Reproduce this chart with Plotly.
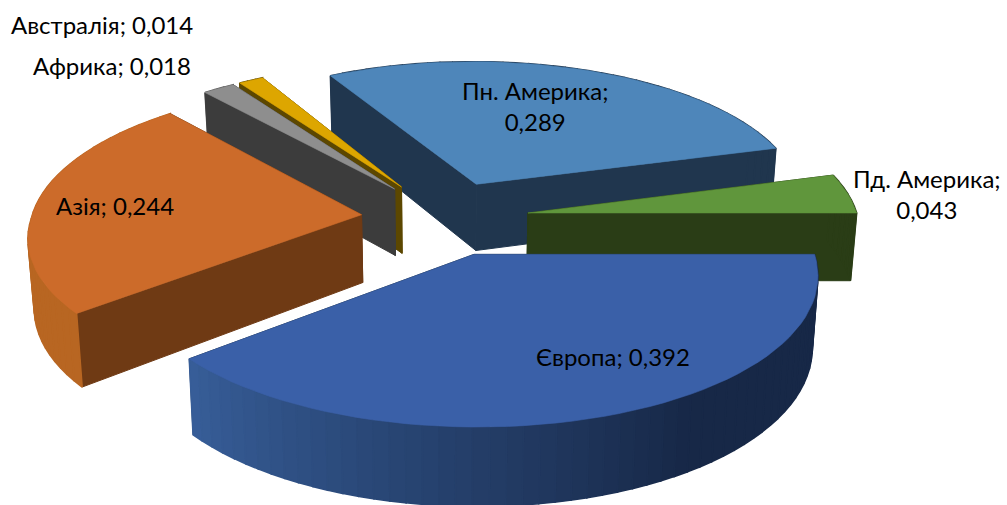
import numpy as np
import plotly.graph_objects as go

categories = ["Пн. Америка", "Пд. Америка", "Європа", "Азія", "Африка", "Австралія"]
values = [0.289, 0.043, 0.392, 0.244, 0.018, 0.014]
top_colors = ["#4E86BA", "#60963C", "#3A60A8", "#CC6B2A", "#8E8E8E", "#DDA600"]
cut_colors = ["#20364E", "#2A3D16", "#20364E", "#6F3A14", "#3C3C3C", "#5C4700"]
rim_light = ["#20364E", "#2A3D16", "#375E99", "#B86622", "#555555", "#5C4700"]
rim_dark = ["#20364E", "#2A3D16", "#172847", "#6F3A14", "#3C3C3C", "#5C4700"]
label_xy = [(535, 106), (927, 194), (613, 356), (115, 205), (112, 65), (102, 24)]
two_line = [True, True, False, False, False, False]
draw_order = [0, 5, 4, 1, 3, 2]

CX, CY, R, EXPLODE, K, Q, P, P_BACK, H, TAPER = 445, 218, 330, 84, 0.447, 0.115, 0.135, 0.11, 68, 0.985
START = 90 - (values[0] + values[1]) * 360  # Європа starts due east


def project(X, F, Z=0.0):
    s = 1 + (P if F > 0 else P_BACK) * F / R
    x = CX + X * s
    y = CY + F * K * (1 + Q * F / R)
    if Z:
        x = CX + (x - CX) * TAPER
        y = y + Z * s
    return x, y


def mix(a, b, t):
    ca = [int(a[i:i + 2], 16) for i in (1, 3, 5)]
    cb = [int(b[i:i + 2], 16) for i in (1, 3, 5)]
    return "rgb(%d,%d,%d)" % tuple(round(u + (v - u) * t) for u, v in zip(ca, cb))


fig = go.Figure()


def poly(pts, color, lw=0.6):
    xs = [p[0] for p in pts] + [pts[0][0]]
    ys = [p[1] for p in pts] + [pts[0][1]]
    fig.add_trace(go.Scatter(x=xs, y=ys, mode="lines", fill="toself", fillcolor=color,
                             line=dict(color=color, width=lw), hoverinfo="skip", showlegend=False))


edges = np.cumsum([0] + values) * 360 + START
for i in draw_order:
    a0, a1 = edges[i], edges[i + 1]
    mid = np.radians((a0 + a1) / 2)
    ox, of = EXPLODE * np.sin(mid), -EXPLODE * np.cos(mid)
    n = max(3, int((a1 - a0) / 2.5))
    ang = np.radians(np.linspace(a0, a1, n + 1))
    rx = ox + R * np.sin(ang)
    rf = of - R * np.cos(ang)
    walls = []
    for xa, fa, xb, fb, col in [(ox, of, rx[0], rf[0], cut_colors[i]), (ox, of, rx[-1], rf[-1], cut_colors[i])]:
        walls.append(((fa + fb) / 2, [project(xa, fa), project(xb, fb), project(xb, fb, H), project(xa, fa, H)], col, 1.0))
    for j in range(n):
        deg = np.degrees((ang[j] + ang[j + 1]) / 2) % 360
        t = min(1, max(0, (231 - deg) / 85))
        walls.append(((rf[j] + rf[j + 1]) / 2 + R * 0.3,
                      [project(rx[j], rf[j]), project(rx[j + 1], rf[j + 1]),
                       project(rx[j + 1], rf[j + 1], H), project(rx[j], rf[j], H)],
                      mix(rim_light[i], rim_dark[i], t), 1.6))
    for _, pts, col, lw in sorted(walls, key=lambda w: w[0]):
        poly(pts, col, lw)
    poly([project(ox, of)] + [project(a, b) for a, b in zip(rx, rf)], top_colors[i])

for name, val, (lx, ly), two in zip(categories, values, label_xy, two_line):
    num = f"{val:.3f}".replace(".", ",")
    text = f"{name};<br>{num}" if two else f"{name}; {num}"
    fig.add_annotation(x=lx, y=ly, text=text, showarrow=False, xanchor="center", yanchor="middle",
                       font=dict(family="Lato, Noto Sans", size=24, color="#000000"), align="center")

fig.update_xaxes(range=[0, 1007], visible=False, fixedrange=True)
fig.update_yaxes(range=[505, 0], visible=False, fixedrange=True)
fig.update_layout(width=1007, height=505, margin=dict(l=0, r=0, t=0, b=0),
                  paper_bgcolor="#FFFFFF", plot_bgcolor="#FFFFFF", showlegend=False)
fig.write_html("out.html", post_script="document.body.style.margin='0';",
               config=dict(displayModeBar=False))
